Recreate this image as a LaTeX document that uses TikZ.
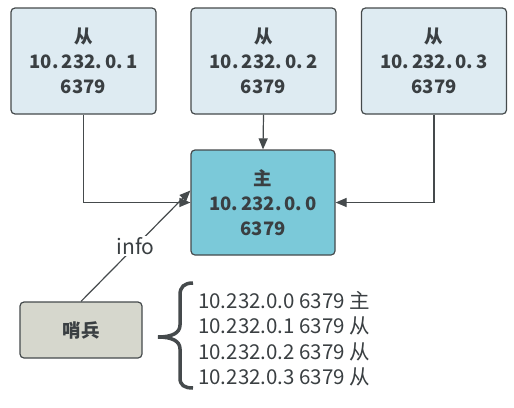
\documentclass[tikz,border=0pt]{standalone}
\usepackage{fontspec}
\setmainfont{Noto Sans CJK SC}
\usetikzlibrary{arrows.meta}

\definecolor{slavefill}{HTML}{DEEBF2}
\definecolor{masterfill}{HTML}{7BC9D9}
\definecolor{sentinelfill}{HTML}{D6D7CD}
\definecolor{linegray}{HTML}{454A4C}
\definecolor{textgray}{HTML}{3A3F42}

\tikzset{
  server/.style={draw=linegray, line width=1.2pt, rounded corners=4pt,
    minimum width=145pt, minimum height=106pt, align=center, text=textgray,
    font=\fontsize{18.5}{25}\selectfont\bfseries},
  link/.style={draw=linegray, line width=1.2pt, -{Triangle[length=11pt,width=9pt]}},
}

\begin{document}
\begin{tikzpicture}[x=1pt, y=-1pt]
    \useasboundingbox (0,0) rectangle (514,407);

    % Slaves
    \node[server, fill=slavefill] (slaveA) at (83.5,61) {从\\10.\,232.\,0.\,1\\6379};
    \node[server, fill=slavefill] (slaveB) at (263.5,61) {从\\10.\,232.\,0.\,2\\6379};
    \node[server, fill=slavefill] (slaveC) at (434,61) {从\\10.\,232.\,0.\,3\\6379};

    % Master
    \node[server, fill=masterfill, minimum width=144pt, minimum height=105pt] (master) at (263,202.5) {主\\10.\,232.\,0.\,0\\6379};

    % Sentinel
    \node[server, fill=sentinelfill, minimum width=122pt, minimum height=56pt] (sentinel) at (81,330) {哨兵};

    % Replication links
    \draw[link] (slaveA.south) |- (master.west);
    \draw[link] (slaveB.south) -- (master.north);
    \draw[link] (slaveC.south) |- (master.east);

    % Sentinel link
    \coordinate (infoend) at ([yshift=12pt]master.west);
    \draw[link] (sentinel.north) -- (infoend)
      node[midway, fill=white, text=textgray, inner sep=1pt, font=\fontsize{21}{24}\selectfont] (info) {info};

    % Brace
    \draw[linegray, line width=3.5pt] (193,283) .. controls (184,283) and (180,287) .. (180,295) -- (180,325)
      .. controls (180,333) and (172,337) .. (158,337) .. controls (172,337) and (180,341) .. (180,349)
      -- (180,378) .. controls (180,385) and (184,388) .. (193,388);

    % Sentinel table
    \node[anchor=west, align=left, text=textgray, inner sep=0pt, font=\fontsize{20.5}{25.5}\selectfont] (table) at (198,338.5)
      {10.232.0.0 6379 主\\10.232.0.1 6379 从\\10.232.0.2 6379 从\\10.232.0.3 6379 从};
  \end{tikzpicture}
\end{document}
